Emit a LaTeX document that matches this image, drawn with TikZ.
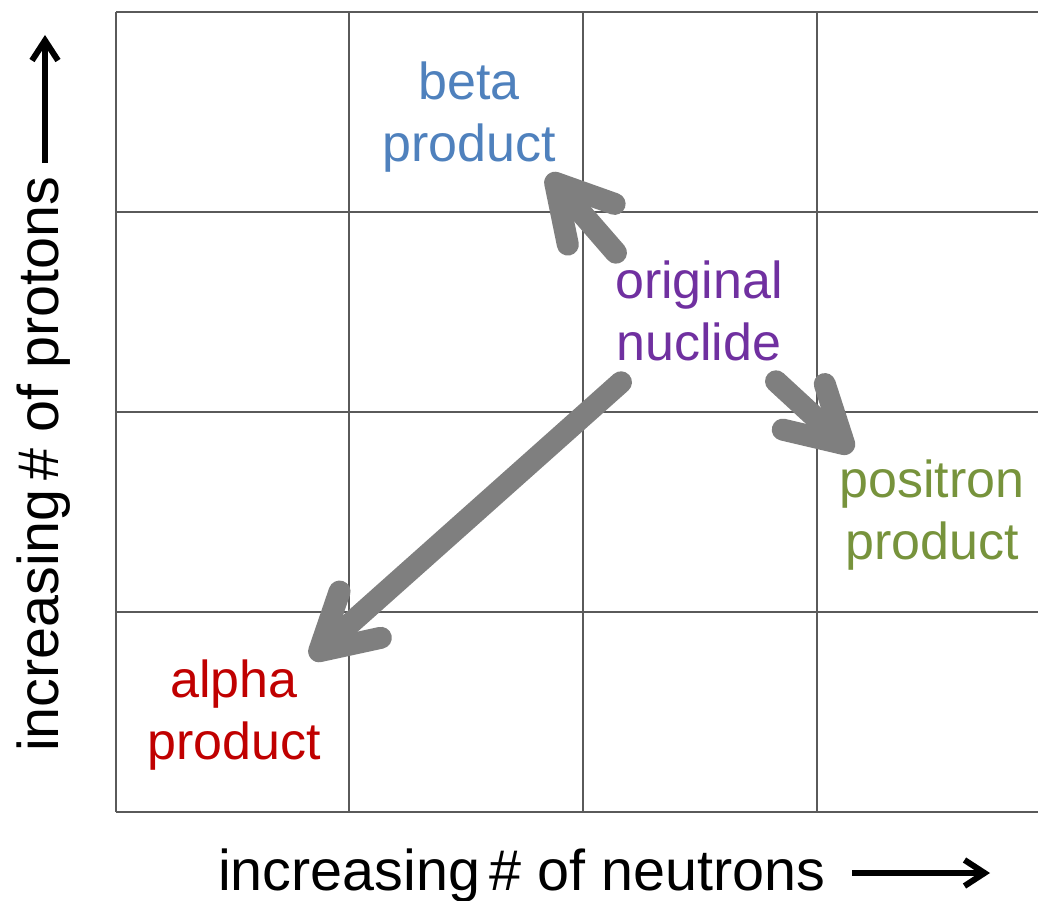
\documentclass[tikz,border=0pt]{standalone}
\usepackage{fontspec}
\setmainfont{Liberation Sans}
\usetikzlibrary{arrows.meta}

\definecolor{gridgray}{RGB}{90,90,90}
\definecolor{arrowgray}{RGB}{127,127,127}
\definecolor{betablue}{RGB}{79,129,189}
\definecolor{nuclidepurple}{RGB}{112,48,160}
\definecolor{positrongreen}{RGB}{119,147,60}
\definecolor{alphared}{RGB}{192,0,0}

\tikzset{
  gridline/.style={draw=gridgray, line width=2.5pt},
  label/.style={inner sep=0pt, align=center, font=\fontsize{52}{62}\selectfont},
  axislabel/.style={inner sep=0pt, font=\fontsize{57.5}{66}\selectfont},
  decay/.style={draw=arrowgray, line width=22pt, line cap=round,
    -{Straight Barb[length=55pt, width=62pt, round]}},
  axisarrow/.style={draw=black, line width=6pt,
    -{Straight Barb[length=20pt, width=26pt]}},
}

\begin{document}
\begin{tikzpicture}[x=1pt, y=-1pt]
  \useasboundingbox (0,0) rectangle (1038,901);

  % chart grid
  \foreach \gx in {116,349,583,817}
    \draw[gridline] (\gx,12) -- (\gx,812);
  \foreach \gy in {12,212,412,612,812}
    \draw[gridline] (116,\gy) -- (1038,\gy);

  % nuclide labels
  \node[label, text=betablue] (beta) at (469,117) {beta\\product};
  \node[label, text=nuclidepurple] (orig) at (699,311) {original\\nuclide};
  \node[label, text=positrongreen] (positron) at (932,515) {positron\\product};
  \node[label, text=alphared] (alpha) at (234,715) {alpha\\product};

  % decay arrows (shifts are in page directions: positive y is up)
  \draw[decay] ([shift={(1pt,8pt)}]orig.north west) -- ([shift={(-8pt,-2pt)}]beta.south east);
  \draw[decay] ([shift={(6pt,-21pt)}]orig.south west) -- ([shift={(-10pt,1pt)}]alpha.north east);
  \draw[decay] ([shift={(-7pt,-20pt)}]orig.south east) -- ([shift={(13pt,8pt)}]positron.north west);

  % axis labels
  \node[axislabel, anchor=base west] (xlabel) at (218,890) {increasing\,\#\ of neutrons};
  \node[axislabel, anchor=base west, rotate=90] (ylabel) at (58,752) {increasing\,\#\ of protons};

  \coordinate (xarrowStart) at (852,873);
  \coordinate (xarrowEnd) at (990,873);
  \coordinate (yarrowStart) at (45,163);
  \coordinate (yarrowEnd) at (45,35);
  \draw[axisarrow] (xarrowStart) -- (xarrowEnd);
  \draw[axisarrow] (yarrowStart) -- (yarrowEnd);
\end{tikzpicture}
\end{document}
